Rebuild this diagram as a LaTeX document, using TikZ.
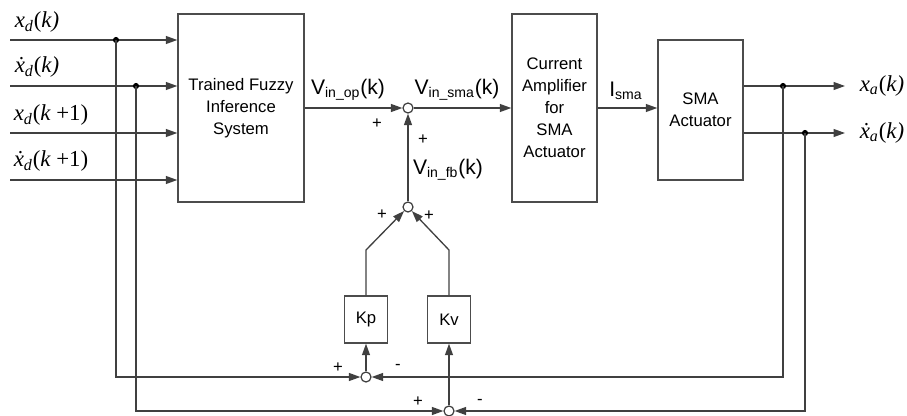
\documentclass[tikz,border=0pt]{standalone}
\usepackage{fontspec}
\setmainfont{Liberation Sans}
\newfontfamily\tms{Liberation Serif}
\usetikzlibrary{arrows.meta}
\newcommand\xsig[3]{{\itshape #1x}\textsubscript{\itshape #2}(#3)}
\tikzset{
 line/.style={draw=black!75, line width=0.75pt},
 arr/.style={line, -{Triangle[length=6.5pt,width=4.5pt]}},
 blk/.style={draw=black!70, line width=0.8pt, align=center, font=\fontsize{9.5}{12.5}\selectfont, inner sep=0pt},
 sumc/.style={circle, draw=black!75, line width=0.7pt, fill=white, minimum size=0.2cm, inner sep=0pt},
 dotc/.style={circle, fill=black, minimum size=3.5pt, inner sep=0pt},
 lab/.style={font=\fontsize{12}{14}\selectfont, inner sep=0pt},
 sgn/.style={font=\fontsize{9.5}{10}\selectfont, inner sep=0pt},
 mlab/.style={font=\tms\fontsize{13}{15}\selectfont, inner sep=0pt}
}
\begin{document}
\begin{tikzpicture}[x=0.02cm,y=-0.02cm]
\useasboundingbox (0,0) rectangle (907,416);
% blocks
\node[blk, minimum width=2.52cm, minimum height=3.76cm] (fis) at (241,108) {Trained Fuzzy\\Inference\\System};
\node[blk, minimum width=1.70cm, minimum height=3.76cm] (amp) at (554.5,108) {Current\\Amplifier\\for\\SMA\\Actuator};
\node[blk, minimum width=1.70cm, minimum height=2.80cm] (sma) at (700.5,110) {SMA\\Actuator};
\node[blk, minimum width=0.86cm, minimum height=0.94cm] (kp) at (366,319.5) {Kp};
\node[blk, minimum width=0.86cm, minimum height=0.94cm] (kv) at (449,319.5) {Kv};
% summing junctions
\node[sumc] (s1) at (408,108) {};
\node[sumc] (s2) at (408,207) {};
\node[sumc] (s3) at (366,377) {};
\node[sumc] (s4) at (449,411) {};
% inputs
\coordinate (i1) at (10,40);
\coordinate (i2) at (10,86);
\coordinate (i3) at (10,133);
\coordinate (i4) at (10,180);
\draw[arr] (i1) -- (i1 -| fis.west);
\draw[arr] (i2) -- (i2 -| fis.west);
\draw[arr] (i3) -- (i3 -| fis.west);
\draw[arr] (i4) -- (i4 -| fis.west);
\node[dotc] (d1) at (116,40) {};
\node[dotc] (d2) at (136,86) {};
% outputs
\coordinate (o1) at (845,86);
\coordinate (o2) at (845,133);
\draw[arr] (sma.east |- o1) -- (o1);
\draw[arr] (sma.east |- o2) -- (o2);
\node[dotc] (e1) at (783,86) {};
\node[dotc] (e2) at (805,133) {};
% feedback loops
\draw[arr] (d1.center) |- (s3);
\draw[arr] (e1.center) |- (s3);
\draw[arr] (d2.center) |- (s4);
\draw[arr] (e2.center) |- (s4);
\draw[arr] (s3) -- (kp.south);
\draw[arr] (s4) -- (kv.south);
\coordinate (kpb) at (366,250);
\coordinate (kvb) at (449,250);
\draw[arr] (kp.north) -- (kpb) -- (s2);
\draw[arr] (kv.north) -- (kvb) -- (s2);
\draw[arr] (s2) -- (s1);
% forward path
\draw[arr] (fis.east |- s1) -- (s1);
\draw[arr] (s1) -- (amp.west |- s1);
\draw[arr] (amp.east |- s1) -- (sma.west |- s1);
% signal labels
\node[mlab] (lx1) at (37,22) {\xsig{}{d}{\itshape k}};
\node[mlab] (lx2) at (37,67) {\xsig{\.}{d}{\itshape k}};
\node[mlab] (lx3) at (51,115) {\xsig{}{d}{{\itshape k} +1}};
\node[mlab] (lx4) at (51,161) {\xsig{\.}{d}{{\itshape k} +1}};
\node[mlab] (la1) at (882,86) {\xsig{}{a}{\itshape k}};
\node[mlab] (la2) at (882,133) {\xsig{\.}{a}{\itshape k}};
\node[lab] (lop) at (348,90) {V\textsubscript{in\_op}(k)};
\node[lab] (lsma) at (457,90) {V\textsubscript{in\_sma}(k)};
\node[lab] (lfb) at (448,170) {V\textsubscript{in\_fb}(k)};
\node[lab] (li) at (626,91) {I\textsubscript{sma}};
% signs
\node[sgn] at (377,124) {+};
\node[sgn] at (423,140) {+};
\node[sgn] at (382,215) {+};
\node[sgn] at (429,216) {+};
\node[sgn] at (338,368) {+};
\node[sgn] at (398,367) {-};
\node[sgn] at (418,402) {+};
\node[sgn] at (480,402) {-};
\end{tikzpicture}
\end{document}
